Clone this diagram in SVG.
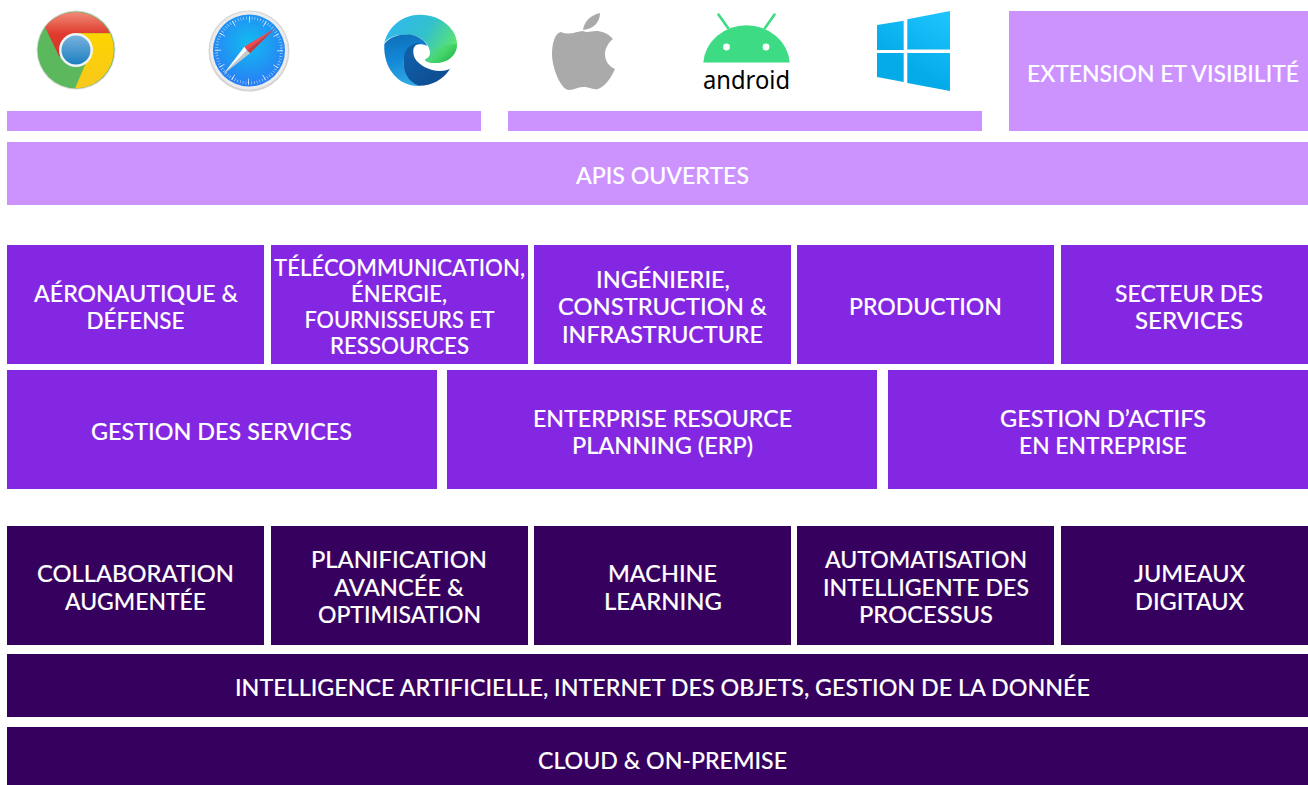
<svg xmlns="http://www.w3.org/2000/svg" width="1308" height="785" viewBox="0 0 1308 785">
<style>
.l{fill:#cc93ff}.m{fill:#8427e2}.d{fill:#36005e}
text{font-family:"Lato","Noto Sans",sans-serif;font-size:23px;font-weight:500;fill:#fff;stroke:#fff;stroke-width:.12px;text-anchor:middle;transform:translateY(-.5px)}
.and{font-family:"Noto Sans",sans-serif;font-weight:400;fill:#000;stroke:none;font-size:25px}
</style>
<defs>
<radialGradient id="sb" cx=".5" cy=".4" r=".65"><stop offset="0" stop-color="#12bcf0"/><stop offset="1" stop-color="#2a78f5"/></radialGradient>
<linearGradient id="et" gradientUnits="userSpaceOnUse" x1="395" y1="20" x2="450" y2="55"><stop offset="0" stop-color="#30b8ea"/><stop offset=".5" stop-color="#33c1cc"/><stop offset="1" stop-color="#5ce56c"/></linearGradient>
<linearGradient id="eg" gradientUnits="userSpaceOnUse" x1="425" y1="50" x2="440" y2="66"><stop offset="0" stop-color="#5ce56c" stop-opacity="0"/><stop offset="1" stop-color="#2fc35a"/></linearGradient>
<linearGradient id="eb" gradientUnits="userSpaceOnUse" x1="390" y1="35" x2="400" y2="85"><stop offset="0" stop-color="#0f6fb8"/><stop offset=".5" stop-color="#1288d8"/><stop offset="1" stop-color="#30a8e4"/></linearGradient>
<linearGradient id="ed" gradientUnits="userSpaceOnUse" x1="410" y1="50" x2="440" y2="85"><stop offset="0" stop-color="#0f5fa8"/><stop offset="1" stop-color="#0f4c90"/></linearGradient>
<linearGradient id="win" gradientUnits="userSpaceOnUse" x1="950" y1="11" x2="915" y2="70"><stop offset="0" stop-color="#20c6ff"/><stop offset="1" stop-color="#05abe9"/></linearGradient>
<linearGradient id="bb" x1="0" y1="0" x2="0" y2="1"><stop offset="0" stop-color="#78b2dc"/><stop offset="1" stop-color="#1d7fc0"/></linearGradient>
<linearGradient id="cr" x1="0" y1="0" x2="0" y2="1"><stop offset="0" stop-color="#f08a78"/><stop offset=".5" stop-color="#df3a2c"/><stop offset="1" stop-color="#d83428"/></linearGradient>
<linearGradient id="cy" x1="0" y1="0" x2="0" y2="1"><stop offset="0" stop-color="#fdd400"/><stop offset="1" stop-color="#f8c81c"/></linearGradient>
</defs>
<g id="icon-chrome">
<circle cx="76" cy="50" r="39.5" fill="#d8d8d8"/>
<circle cx="76" cy="50" r="38.5" fill="#5cb85c"/>
<path d="M45,27 A38.5,38.5 0 0 1 110,33.3 L76,33.3 L59.3,56.7 Z" fill="url(#cr)"/>
<path d="M110,33.3 A38.5,38.5 0 0 1 75,88.5 L86.7,61 A16,16 0 0 0 76,33.3 Z" fill="url(#cy)"/>
<circle cx="76" cy="50" r="17" fill="#f1f4f6"/>
<circle cx="76" cy="50" r="14.5" fill="url(#bb)"/>
</g>
<g id="icon-safari">
<circle cx="249" cy="51" r="40.5" fill="#d4d4d4"/>
<circle cx="249" cy="50.5" r="39" fill="#ececec"/>
<circle cx="249" cy="50.5" r="36" fill="url(#sb)"/>
<circle cx="249" cy="50.5" r="32.5" fill="none" stroke="#fff" stroke-opacity=".75" stroke-width="3" pathLength="360" stroke-dasharray="1 4"/>
<circle cx="249" cy="50.5" r="31" fill="none" stroke="#fff" stroke-opacity=".9" stroke-width="6" pathLength="360" stroke-dasharray="1.4 28.6"/>
<path d="M275,28.3 L244.3,46.7 L247,50.5 Z" fill="#f5484d"/>
<path d="M275,28.3 L247,50.5 L250,53.3 Z" fill="#c93a40"/>
<path d="M223.3,74.3 L244.3,46.7 L247,50.5 Z" fill="#fff"/>
<path d="M223.3,74.3 L247,50.5 L250,53.3 Z" fill="#c9c9c9"/>
</g>
<g id="icon-edge">
<path d="M384.3,43 C388,27 402,14.7 420,14.7 C442,14.7 457,30 457,44 C457,56 447,63 435,63 C429,63 425,61.5 425,59.7 C427,58 430,57 430,53 C430,45 422,36 410,35 C398,33.5 388,37 384.3,43 Z" fill="url(#et)"/>
<path d="M457,44 C457,56 447,63 435,63 C429,63 425,61.5 425,59.7 C427,58 430,57 430,53 C434,48 447,44 457,44 Z" fill="url(#eg)"/>
<path d="M384.3,44 C390,36 402,33.5 412,35 C420,37 425,41 427.5,46 C418,41 404,47 403.3,61 C403,72 410,82 420,86 C400,87 383,70 384.3,44 Z" fill="url(#eb)"/>
<path d="M450,69 C443,80 431,86 419,85.8 C408,82 403.3,72 403.3,61 C403.3,49 411,43 421.7,42.3 C417,44 413.3,46 413.3,51 C413,59 418,63 425,67.3 C433,71.5 443,72 450,69 Z" fill="url(#ed)"/>
</g>
<g id="icon-apple">
<path d="M583,31 C577,31 570,36 561,32 C555,33 552,43 552,54 C552,68 561,90 569,90 C575,90 577,87 583,87 C590,87 592,90 598,89 C605,87 612,76 615,69 C608,66 605,60 605,54 C605,48 609,42 613,39 C608,33 601,31 596,31 C591,31 587,33 583,31 Z" fill="#aaa"/>
<path d="M583,30 C584,22 590,15 600,13 C600,22 594,29 583,30 Z" fill="#aaa"/>
</g>
<g id="icon-android">
<path d="M703.3,62.5 A43.3,40 0 0 1 789.7,62.5 Z" fill="#3ddc84"/>
<path d="M718.5,14.5 L728,28 M774.5,14.5 L765,28" stroke="#3ddc84" stroke-width="2.6" stroke-linecap="round"/>
<circle cx="726.5" cy="47" r="3.4" fill="#fff"/><circle cx="766" cy="47" r="3.4" fill="#fff"/>
<text class="and" x="746.5" y="89.5" textLength="87" lengthAdjust="spacingAndGlyphs">android</text>
</g>
<g id="icon-windows" fill="url(#win)">
<polygon points="877,25 903.7,20.7 903.7,50 877,50"/>
<polygon points="907.3,19.3 950,11 950,49.5 907.3,49.5"/>
<polygon points="877,53 903.7,53 903.7,82 877,77"/>
<polygon points="907.3,53 950,53 950,91 907.3,83"/>
</g>
<g id="bar-navigateurs"><rect class="l" x="7" y="111" width="474" height="20"/></g>
<g id="bar-os"><rect class="l" x="508" y="111" width="474" height="20"/></g>
<g id="extension"><rect class="l" x="1009" y="11" width="299" height="120"/><text x="1163" y="82" textLength="272" lengthAdjust="spacingAndGlyphs">EXTENSION ET VISIBILITÉ</text></g>
<g id="apis"><rect class="l" x="7" y="142" width="1301" height="63"/><text x="662.5" y="184" textLength="173" lengthAdjust="spacingAndGlyphs">APIS OUVERTES</text></g>
<g id="aero"><rect class="m" x="7" y="245" width="257" height="119"/><text x="136" y="302" textLength="204" lengthAdjust="spacingAndGlyphs">AÉRONAUTIQUE &amp;</text><text x="135.5" y="329" textLength="98" lengthAdjust="spacingAndGlyphs">DÉFENSE</text></g>
<g id="telecom"><rect class="m" x="271" y="245" width="257" height="119"/><text x="399.5" y="276" textLength="251" lengthAdjust="spacingAndGlyphs">TÉLÉCOMMUNICATION,</text><text x="399" y="302" textLength="96" lengthAdjust="spacingAndGlyphs">ÉNERGIE,</text><text x="399.5" y="328" textLength="190" lengthAdjust="spacingAndGlyphs">FOURNISSEURS ET</text><text x="399.5" y="354" textLength="139" lengthAdjust="spacingAndGlyphs">RESSOURCES</text></g>
<g id="ingenierie"><rect class="m" x="534" y="245" width="257" height="119"/><text x="663" y="288" textLength="134" lengthAdjust="spacingAndGlyphs">INGÉNIERIE,</text><text x="662.5" y="315" textLength="209" lengthAdjust="spacingAndGlyphs">CONSTRUCTION &amp;</text><text x="662.5" y="343" textLength="201" lengthAdjust="spacingAndGlyphs">INFRASTRUCTURE</text></g>
<g id="production"><rect class="m" x="797" y="245" width="257" height="119"/><text x="925.5" y="315" textLength="153" lengthAdjust="spacingAndGlyphs">PRODUCTION</text></g>
<g id="secteur"><rect class="m" x="1061" y="245" width="247" height="119"/><text x="1189" y="302" textLength="148" lengthAdjust="spacingAndGlyphs">SECTEUR DES</text><text x="1189" y="329" textLength="108" lengthAdjust="spacingAndGlyphs">SERVICES</text></g>
<g id="gestion-services"><rect class="m" x="7" y="370" width="430" height="119"/><text x="221.5" y="440" textLength="261" lengthAdjust="spacingAndGlyphs">GESTION DES SERVICES</text></g>
<g id="erp"><rect class="m" x="447" y="370" width="430" height="119"/><text x="662.5" y="427" textLength="259" lengthAdjust="spacingAndGlyphs">ENTERPRISE RESOURCE</text><text x="662.5" y="454" textLength="181" lengthAdjust="spacingAndGlyphs">PLANNING (ERP)</text></g>
<g id="actifs"><rect class="m" x="888" y="370" width="420" height="119"/><text x="1103" y="427" textLength="206" lengthAdjust="spacingAndGlyphs">GESTION D’ACTIFS</text><text x="1103" y="454" textLength="168" lengthAdjust="spacingAndGlyphs">EN ENTREPRISE</text></g>
<g id="collaboration"><rect class="d" x="7" y="526" width="257" height="119"/><text x="135.5" y="582" textLength="197" lengthAdjust="spacingAndGlyphs">COLLABORATION</text><text x="135.5" y="610" textLength="141" lengthAdjust="spacingAndGlyphs">AUGMENTÉE</text></g>
<g id="planification"><rect class="d" x="271" y="526" width="257" height="119"/><text x="399" y="568" textLength="176" lengthAdjust="spacingAndGlyphs">PLANIFICATION</text><text x="399" y="596" textLength="130" lengthAdjust="spacingAndGlyphs">AVANCÉE &amp;</text><text x="399.5" y="623" textLength="163" lengthAdjust="spacingAndGlyphs">OPTIMISATION</text></g>
<g id="ml"><rect class="d" x="534" y="526" width="257" height="119"/><text x="662.5" y="582" textLength="109" lengthAdjust="spacingAndGlyphs">MACHINE</text><text x="663" y="610" textLength="118" lengthAdjust="spacingAndGlyphs">LEARNING</text></g>
<g id="automatisation"><rect class="d" x="797" y="526" width="257" height="119"/><text x="926" y="568" textLength="202" lengthAdjust="spacingAndGlyphs">AUTOMATISATION</text><text x="926" y="596" textLength="206" lengthAdjust="spacingAndGlyphs">INTELLIGENTE DES</text><text x="926" y="623" textLength="134" lengthAdjust="spacingAndGlyphs">PROCESSUS</text></g>
<g id="jumeaux"><rect class="d" x="1061" y="526" width="247" height="119"/><text x="1189.5" y="582" textLength="111" lengthAdjust="spacingAndGlyphs">JUMEAUX</text><text x="1189.5" y="610" textLength="109" lengthAdjust="spacingAndGlyphs">DIGITAUX</text></g>
<g id="ia"><rect class="d" x="7" y="654" width="1301" height="63"/><text x="662.5" y="696" textLength="855" lengthAdjust="spacingAndGlyphs">INTELLIGENCE ARTIFICIELLE, INTERNET DES OBJETS, GESTION DE LA DONNÉE</text></g>
<g id="cloud"><rect class="d" x="7" y="727" width="1301" height="58"/><text x="662.5" y="769" textLength="249" lengthAdjust="spacingAndGlyphs">CLOUD &amp; ON-PREMISE</text></g>
</svg>
